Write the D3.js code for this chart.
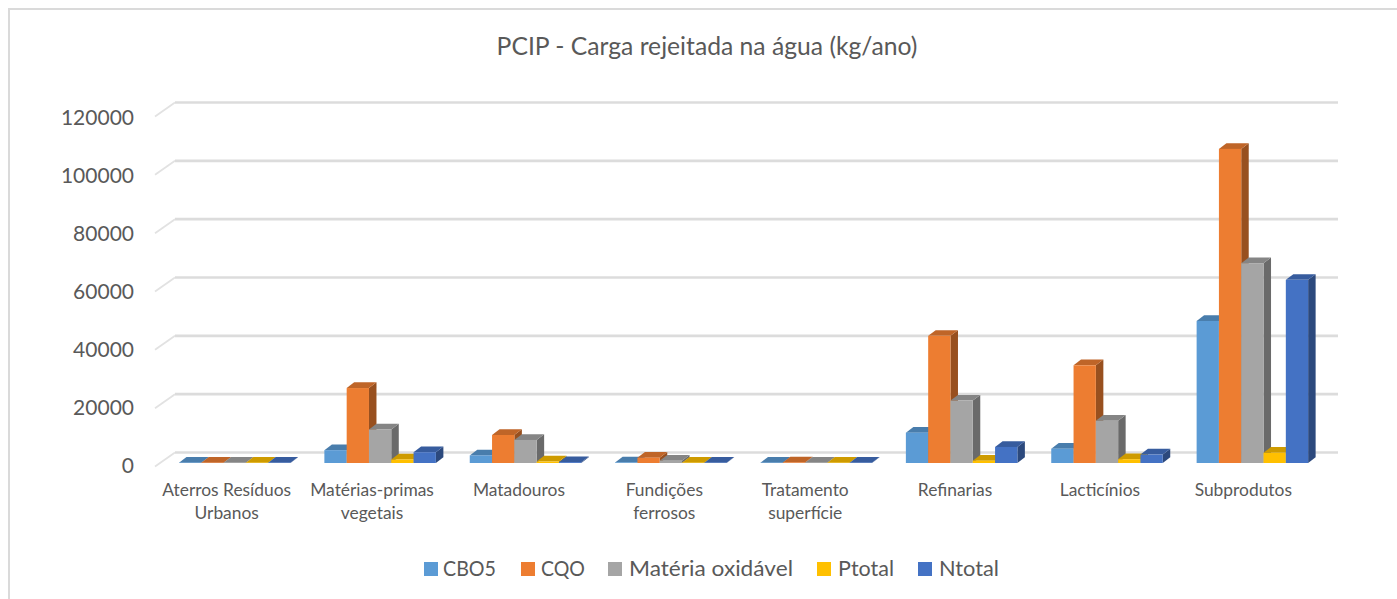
<!DOCTYPE html>
<html><head><meta charset="utf-8">
<script src="https://cdn.jsdelivr.net/npm/d3@7"></script>
<style>html,body{margin:0;padding:0;background:#fff}svg{display:block}text{font-family:Lato,"Open Sans",sans-serif;fill:#595959}</style>
</head><body><svg id="c" width="1397" height="599"></svg>
<script>
const title = "PCIP - Carga rejeitada na água (kg/ano)";
const categories = [["Aterros Resíduos","Urbanos"],["Matérias-primas","vegetais"],["Matadouros"],["Fundições","ferrosos"],["Tratamento","superfície"],["Refinarias"],["Lacticínios"],["Subprodutos"]];
const seriesNames = ["CBO5","CQO","Matéria oxidável","Ptotal","Ntotal"];
const cbo5 = [100,4400,2600,200,100,10400,4900,48700];
const cqo = [100,25700,9600,1800,200,43600,33500,107700];
const materia = [100,11500,7900,800,100,21400,14500,68500];
const ptotal = [100,1200,500,100,100,800,1300,3500];
const ntotal = [100,3700,300,100,100,5500,2900,62800];
const yTicks = [0,20000,40000,60000,80000,100000,120000];
const colors = ["#5B9BD5","#ED7D31","#A5A5A5","#FFC000","#4472C4"];
const values = [cbo5,cqo,materia,ptotal,ntotal];

const svg = d3.select("#c");
svg.append("rect").attr("x",9).attr("y",9).attr("width",1500).attr("height",1000).attr("fill","#fff").attr("stroke","#DADADA").attr("stroke-width",2);
svg.append("text").attr("x",707).attr("y",55).attr("text-anchor","middle").style("font-size","24.7px").text(title);

const y = d3.scaleLinear().domain([0,120000]).range([463,113]);
const yLabel = d3.scaleLinear().domain([0,120000]).range([472.5,125]);
const x0 = d3.scaleBand().domain(d3.range(categories.length)).range([155,1318]);
const x1 = d3.scaleBand().domain(d3.range(5)).range([24,135.5]);
const wallDx=20, wallDy=-10.5, barDx=7.5, barDy=-5.7;

yTicks.forEach(t=>{
  const yy=y(t);
  svg.append("path").attr("d",`M155,${yy+3.5}L${155+wallDx},${yy+wallDy}`)
   .attr("fill","none").attr("stroke","#E2E2E2").attr("stroke-width",1.8);
  svg.append("path").attr("d",`M${155+wallDx},${yy+wallDy}L1338,${yy+wallDy}`)
   .attr("fill","none").attr("stroke","#DCDCDC").attr("stroke-width",2.6);
  svg.append("text").attr("x",134).attr("y",yLabel(t)).attr("text-anchor","end").style("font-size","21px").text(t);
});

const labelShift=[-1,-1,0.5,0.5,-4,0.5,0,-2];
const shade=(c,k)=>d3.color(c).darker(k).formatHex();
categories.forEach((cat,i)=>{
  const g=svg.append("g").attr("transform",`translate(${x0(i)},0)`);
  values.forEach((vals,s)=>{
    const bx=x1(s), w=x1.bandwidth(), top=y(vals[i]), base=y(0);
    g.append("path").attr("d",`M${bx+w},${top}L${bx+w+barDx},${top+barDy}L${bx+w+barDx},${base+barDy}L${bx+w},${base}Z`).attr("fill",shade(colors[s],1.25));
    g.append("path").attr("d",`M${bx},${top}L${bx+barDx},${top+barDy}L${bx+w+barDx},${top+barDy}L${bx+w},${top}Z`).attr("fill",shade(colors[s],0.6));
    g.append("rect").attr("x",bx).attr("y",top).attr("width",w).attr("height",base-top).attr("fill",colors[s]);
  });
  const t=svg.append("text").attr("text-anchor","middle").style("font-size","17.4px");
  cat.forEach((l,k)=>t.append("tspan").attr("x",x0(i)+x0.bandwidth()/2+labelShift[i]).attr("y",496+k*23).text(l));
});

const legendX=[424,521,608,817,918], legendT=[443,541,629,838,939], legendW=[53,44,164,56,60];
seriesNames.forEach((n,s)=>{
  svg.append("rect").attr("x",legendX[s]).attr("y",562).attr("width",14).attr("height",14).attr("fill",colors[s]);
  svg.append("text").attr("x",legendT[s]).attr("y",576).attr("textLength",legendW[s]).attr("lengthAdjust","spacingAndGlyphs").style("font-size","22px").text(n);
});
</script></body></html>
